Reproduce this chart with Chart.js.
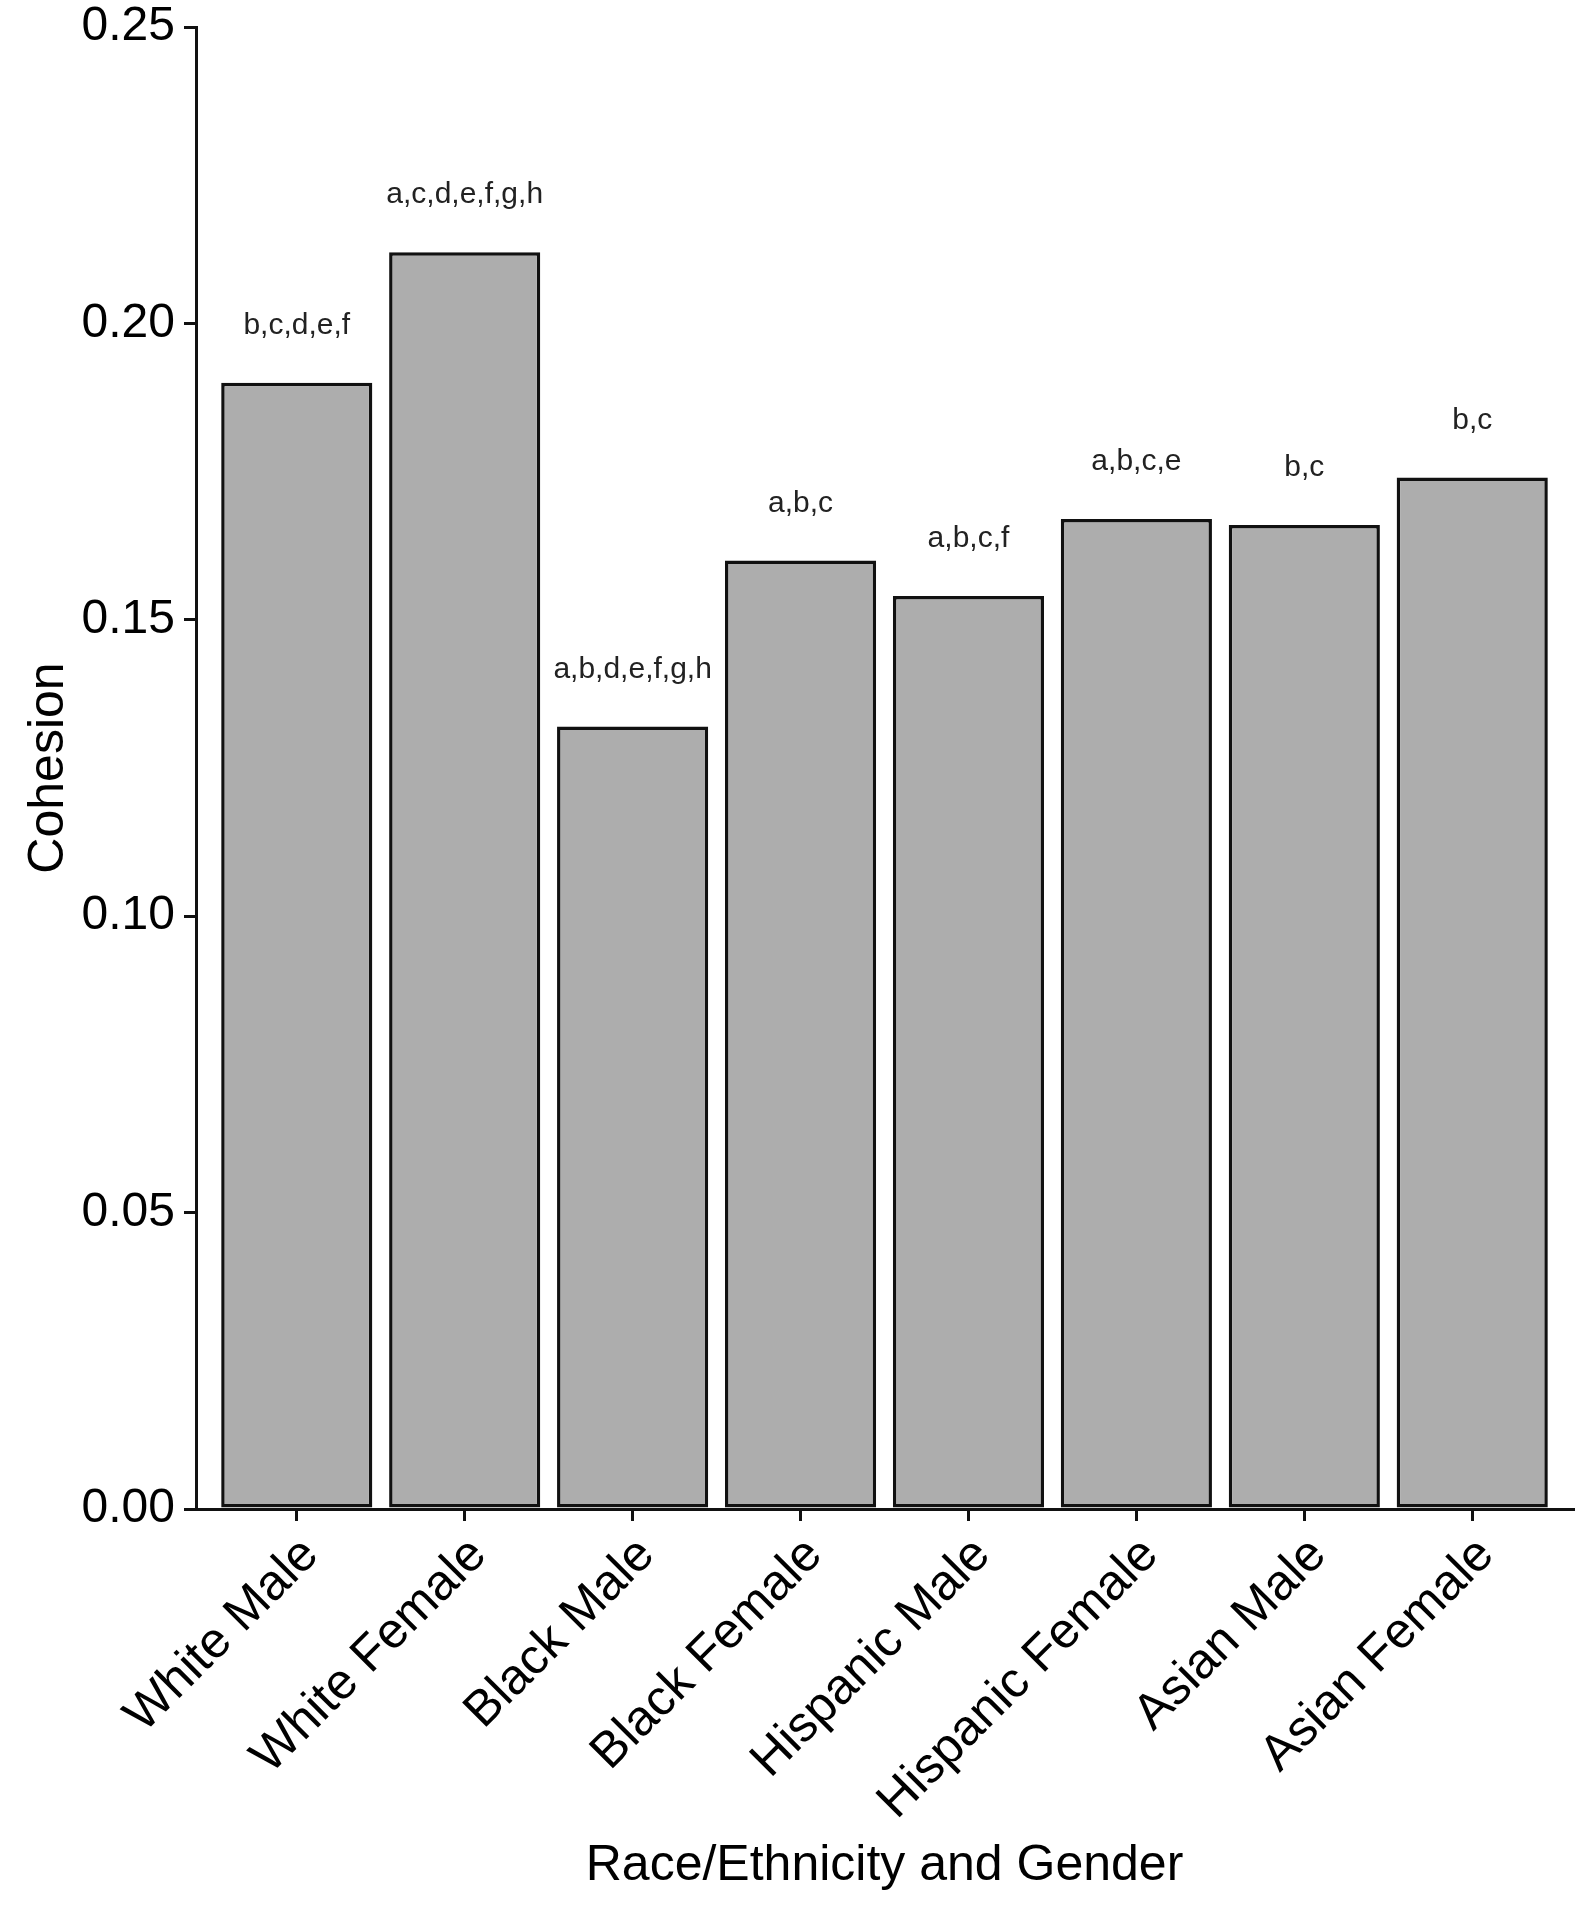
<!DOCTYPE html>
<html>
<head>
<meta charset="utf-8">
<title>Cohesion by Race/Ethnicity and Gender</title>
<script src="https://cdn.jsdelivr.net/npm/chart.js@4.4.1/dist/chart.umd.min.js"></script>
<style>
    html, body { margin: 0; padding: 0; background: #fff; }
    #wrap { width: 1586px; height: 1920px; position: relative; }
</style>
</head>
<body>
<div id="wrap"><canvas id="barChart"></canvas></div>
<script>
'use strict';

var categories = ['White Male', 'White Female', 'Black Male', 'Black Female',
    'Hispanic Male', 'Hispanic Female', 'Asian Male', 'Asian Female'];
var cohesion = [0.190, 0.212, 0.132, 0.160, 0.154, 0.167, 0.166, 0.174];
var letters = ['b,c,d,e,f', 'a,c,d,e,f,g,h', 'a,b,d,e,f,g,h', 'a,b,c',
    'a,b,c,f', 'a,b,c,e', 'b,c', 'b,c'];
var yTicks = [0, 0.05, 0.10, 0.15, 0.20, 0.25];

var FONT = '"Liberation Sans", Arial, Helvetica, sans-serif';

// letters drawn above each bar
var letterLabels = {
    id: 'letterLabels',
    afterDatasetsDraw: function (chart) {
        var ctx = chart.ctx;
        var meta = chart.getDatasetMeta(0);
        ctx.save();
        ctx.font = '30px ' + FONT;
        ctx.fillStyle = '#222';
        ctx.textAlign = 'center';
        ctx.textBaseline = 'alphabetic';
        meta.data.forEach(function (bar, i) {
            ctx.fillText(letters[i], bar.x, bar.y - 49);
        });
        ctx.restore();
    }
};

function initBarChart() {
    var ctx = document.getElementById('barChart').getContext('2d');
    new Chart(ctx, {
        type: 'bar',
        data: {
            datasets: [{
                data: cohesion.map(function (v, i) { return {x: i, y: v}; }),
                backgroundColor: '#adadad',
                borderColor: '#111',
                borderWidth: 3.5,
                borderSkipped: false,
                categoryPercentage: 1.0,
                barPercentage: 0.9
            }]
        },
        options: {
            responsive: true,
            maintainAspectRatio: false,
            animation: false,
            events: [],
            layout: { padding: { top: 27, right: 13, left: 0, bottom: 0 } },
            plugins: {
                legend: { display: false },
                tooltip: { enabled: false }
            },
            scales: {
                x: {
                    type: 'linear',
                    offset: false,
                    min: -0.6,
                    max: categories.length - 0.4,
                    afterBuildTicks: function (scale) {
                        scale.ticks = categories.map(function (c, i) { return {value: i}; });
                    },
                    afterFit: function (scale) {
                        scale.height = 1920 - 1509;
                        scale.paddingLeft = 0;
                        scale.paddingRight = 0;
                    },
                    grid: {
                        offset: false,
                        drawOnChartArea: false,
                        drawTicks: true,
                        tickLength: 12,
                        color: '#111',
                        lineWidth: 3
                    },
                    border: { display: true, color: '#111', width: 3 },
                    ticks: {
                        autoSkip: false,
                        minRotation: 45,
                        maxRotation: 45,
                        padding: 5,
                        labelOffset: 14,
                        color: '#000',
                        font: { family: FONT, size: 50 },
                        callback: function (v) { return categories[v]; }
                    },
                    title: {
                        display: true,
                        text: 'Race/Ethnicity and Gender',
                        color: '#000',
                        font: { family: FONT, size: 50 },
                        padding: { top: 0, bottom: 24 }
                    }
                },
                y: {
                    min: 0,
                    max: 0.25,
                    afterBuildTicks: function (scale) {
                        scale.ticks = yTicks.map(function (v) { return {value: v}; });
                    },
                    afterFit: function (scale) {
                        scale.width = 196;
                        scale.paddingTop = 0;
                        scale.paddingBottom = 0;
                    },
                    grid: {
                        drawOnChartArea: false,
                        drawTicks: true,
                        tickLength: 12,
                        color: '#111',
                        lineWidth: 3
                    },
                    border: { display: true, color: '#111', width: 3 },
                    ticks: {
                        padding: 9,
                        color: '#000',
                        font: { family: FONT, size: 48 },
                        callback: function (v) { return v.toFixed(2); }
                    },
                    title: {
                        display: true,
                        text: 'Cohesion',
                        color: '#000',
                        font: { family: FONT, size: 50 },
                        padding: { top: 19, bottom: 0 }
                    }
                }
            }
        },
        plugins: [letterLabels]
    });
}
initBarChart();
</script>
</body>
</html>
